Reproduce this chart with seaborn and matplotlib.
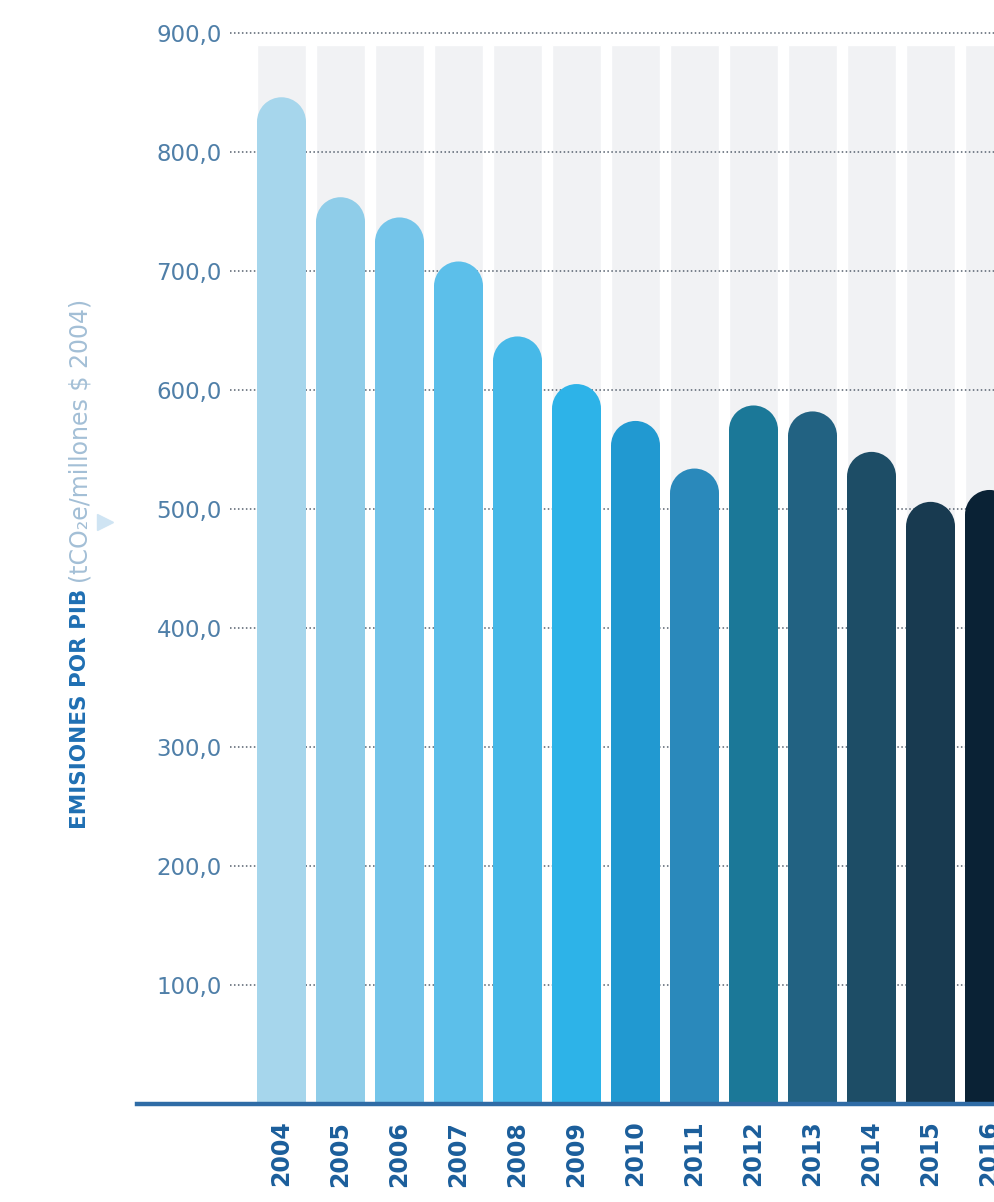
import matplotlib
matplotlib.use("Agg")
import matplotlib.pyplot as plt
from matplotlib.patches import Ellipse
import seaborn as sns

# Emissions intensity per unit of GDP, by year
years = ["2004", "2005", "2006", "2007", "2008", "2009", "2010",
         "2011", "2012", "2013", "2014", "2015", "2016"]
emissions = [846, 762, 745, 708, 645, 605, 574, 534, 587, 582, 548, 506, 516]
bar_colors = ["#a6d6ec", "#8fcde9", "#74c5ea", "#5cbfea", "#47b9e8", "#2db3e8",
              "#2199d1", "#2a89bb", "#1b7898", "#226282", "#1d4d66", "#183a50",
              "#0a2235"]
tick_values = [100, 200, 300, 400, 500, 600, 700, 800, 900]
tick_labels = ["100,0", "200,0", "300,0", "400,0", "500,0", "600,0",
               "700,0", "800,0", "900,0"]

sns.set_theme(style="white")
plt.rcParams["font.family"] = ["DejaVu Sans"]

W, H = 994, 1202
fig = plt.figure(figsize=(W / 100, H / 100), dpi=100)
fig.patch.set_facecolor("white")
ax = fig.add_axes([137 / W, (H - 1104) / H, (W - 137) / W, 1100.75 / H])
ax.set_facecolor("white")

# pale backdrop columns behind every bar
sns.barplot(x=years, y=[890] * len(years), color="#f1f2f4", width=0.83,
            saturation=1, ax=ax, zorder=0)
n_back = len(ax.patches)

# dotted reference lines starting just right of the value labels
for v in tick_values:
    ax.hlines(v, -0.873, 13, colors="#56616e", linestyles=(0, (1, 1.6)),
              linewidth=1.1, zorder=1)

sns.barplot(x=years, y=emissions, hue=years, palette=bar_colors, width=0.83,
            saturation=1, legend=False, ax=ax, zorder=2)

ax.set_xlim(-2.449, 12.076)
ax.set_ylim(0, 925)

# give each coloured bar a semicircular top
fig.canvas.draw()
p0 = ax.transData.transform((0, 0))
px_x = ax.transData.transform((1, 0))[0] - p0[0]
px_y = ax.transData.transform((0, 1))[1] - p0[1]
for patch in list(ax.patches[n_back:]):
    x, w, h = patch.get_x(), patch.get_width(), patch.get_height()
    ry = (w * px_x / 2) / px_y
    patch.set_height(h - ry * 0.98)
    col = patch.get_facecolor()
    patch.set_linewidth(0)
    ax.add_patch(Ellipse((x + w / 2, h - ry), w, 2 * ry, facecolor=col,
                         linewidth=0, zorder=2))

# axes styling
for side in ["top", "right", "left"]:
    ax.spines[side].set_visible(False)
ax.spines["bottom"].set_color("#2f6ca6")
ax.spines["bottom"].set_linewidth(3.2)
ax.spines["bottom"].set_zorder(4)

ax.set_yticks(tick_values)
ax.set_yticklabels(tick_labels)
ax.tick_params(axis="y", length=0, pad=-61.2, labelsize=16.5,
               labelcolor="#4f7fa8")
ax.tick_params(axis="x", length=0, pad=12, labelsize=17, labelcolor="#1b5e9b")
for lab in ax.get_xticklabels():
    lab.set_rotation(90)
    lab.set_fontweight("bold")
    lab.set_va("top")
    lab.set_ha("center")
ax.set_xlabel("")
ax.set_ylabel("")

# rotated axis title in two tones
bold_title = fig.text(80 / W, (H - 829) / H, "EMISIONES POR PIB", rotation=90,
                      ha="center", va="bottom", fontsize=15.5,
                      fontweight="bold", color="#1f6fb3")
fig.canvas.draw()
bb = bold_title.get_window_extent()
fig.text(81 / W, (bb.y1 + 6) / H, "(tCO₂e/millones $ 2004)", rotation=90,
         ha="center", va="bottom", fontsize=17, color="#a3bfd6")
fig.lines.append(plt.Line2D([105 / W], [(H - 522) / H], marker=">",
                            markersize=11, color="#cfe4f3", linestyle="none",
                            transform=fig.transFigure))

fig.savefig("out.png", dpi=100, facecolor="white")
